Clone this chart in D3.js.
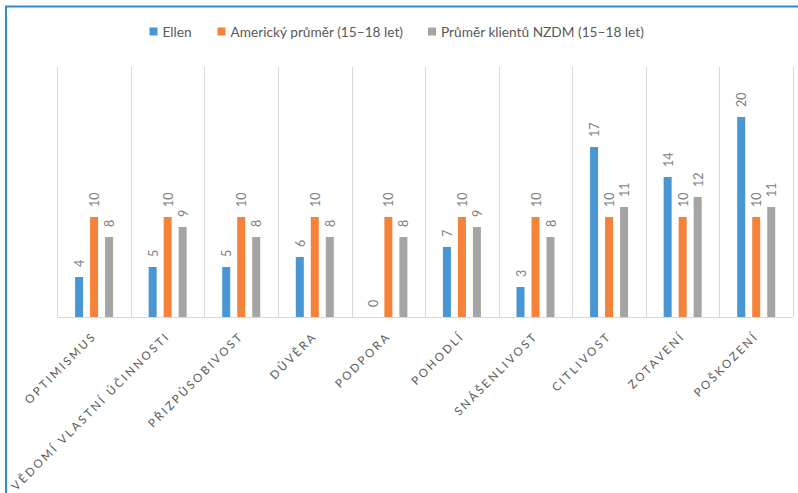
<!DOCTYPE html>
<html>
<head>
<meta charset="utf-8">
<script src="https://cdn.jsdelivr.net/npm/d3@7"></script>
<style>
  html, body { margin: 0; padding: 0; background: #fff; }
  svg { display: block; }
</style>
</head>
<body>
<svg id="chart" width="798" height="493"></svg>
<script>
// Category labels along the x axis
const categories = [
  "OPTIMISMUS", "VĚDOMÍ VLASTNÍ ÚČINNOSTI", "PŘIZPŮSOBIVOST", "DŮVĚRA", "PODPORA",
  "POHODLÍ", "SNÁŠENLIVOST", "CITLIVOST", "ZOTAVENÍ", "POŠKOZENÍ"
];
// Series names shown in the legend
const seriesNames = ["Ellen", "Americký průměr (15–18 let)", "Průměr klientů NZDM (15–18 let)"];
// Values per series, one per category
const ellen = [4, 5, 5, 6, 0, 7, 3, 17, 14, 20];
const usAverage = [10, 10, 10, 10, 10, 10, 10, 10, 10, 10];
const nzdmAverage = [8, 9, 8, 8, 8, 9, 8, 11, 12, 11];
const colors = ["#4896D3", "#F5823A", "#A5A5A5"];

const seriesValues = [ellen, usAverage, nzdmAverage];
const rows = categories.map((c, i) => ({
  category: c,
  values: seriesValues.map((s, j) => ({ key: seriesNames[j], value: s[i], idx: j }))
}));

const svg = d3.select("#chart");
const W = 798, H = 493;
const plot = { left: 57.3, right: 793, top: 67, bottom: 317 };

// Outer frame (only the top and left edges fall inside the view)
svg.append("path")
  .attr("d", `M6,${H + 5} V6.5 H${W + 5}`)
  .attr("fill", "none")
  .attr("stroke", "#2E8BCB")
  .attr("stroke-width", 2);

const x0 = d3.scaleBand().domain(categories).range([plot.left, plot.right]).paddingInner(0).paddingOuter(0);
const y = d3.scaleLinear().domain([0, 25]).range([plot.bottom, plot.top]);
const barW = 8, step = 15;
const x1 = d3.scalePoint().domain(seriesNames).range([-step, step]);

// Vertical category separators
const sepPositions = categories.map(c => x0(c)).concat([plot.right]);
svg.append("g").selectAll("line").data(sepPositions).join("line")
  .attr("x1", d => Math.round(d) + 0.5).attr("x2", d => Math.round(d) + 0.5)
  .attr("y1", plot.top).attr("y2", plot.bottom)
  .attr("stroke", "#D9D9D9").attr("stroke-width", 1);

// Bars
const groups = svg.append("g").selectAll("g").data(rows).join("g")
  .attr("transform", d => `translate(${x0(d.category) + x0.bandwidth() / 2},0)`);

groups.selectAll("rect").data(d => d.values).join("rect")
  .attr("x", d => x1(d.key) - barW / 2)
  .attr("y", d => y(d.value))
  .attr("width", barW)
  .attr("height", d => y(0) - y(d.value))
  .attr("fill", d => colors[d.idx]);

// Value labels, rotated, above each bar
groups.selectAll("text").data(d => d.values).join("text")
  .attr("transform", d => `translate(${x1(d.key) + 0.5},${y(d.value) - 10}) rotate(-90)`)
  .attr("text-anchor", "start")
  .attr("dominant-baseline", "central")
  .attr("font-family", "Lato, 'Open Sans', sans-serif")
  .attr("font-size", 12.5)
  .attr("fill", "#808080")
  .text(d => d.value);

// Baseline axis
const xAxis = d3.axisBottom(x0).tickSize(0).tickFormat("");
const axisG = svg.append("g").attr("transform", `translate(0,${plot.bottom})`).call(xAxis);
axisG.select(".domain").attr("stroke", "#D9D9D9").attr("d", `M${plot.left},0.5H${plot.right}`);

// Category labels at -45 degrees
svg.append("g").selectAll("text").data(categories).join("text")
  .attr("transform", d => `translate(${x0(d) + x0.bandwidth() / 2 + 3},${plot.bottom + 20}) rotate(-45)`)
  .attr("text-anchor", "end")
  .attr("font-family", "Lato, 'Open Sans', sans-serif")
  .attr("font-size", 11.5)
  .attr("letter-spacing", 2.4)
  .attr("fill", "#595959")
  .text(d => d);

// Legend
const legendItems = [
  { name: seriesNames[0], x: 149.5 },
  { name: seriesNames[1], x: 217.5 },
  { name: seriesNames[2], x: 428 }
];
const lg = svg.append("g").selectAll("g").data(legendItems).join("g")
  .attr("transform", d => `translate(${d.x},27.5)`);
lg.append("rect").attr("width", 8).attr("height", 8).attr("fill", (d, i) => colors[i]);
lg.append("text")
  .attr("x", 13).attr("y", 4)
  .attr("dominant-baseline", "central")
  .attr("font-family", "Lato, 'Open Sans', sans-serif")
  .attr("font-size", 13.7)
  .attr("fill", "#595959")
  .text(d => d.name);
</script>
</body>
</html>
